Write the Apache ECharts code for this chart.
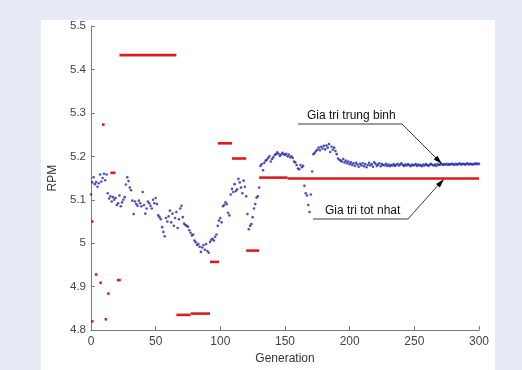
<!DOCTYPE html>
<html>
<head>
<meta charset="utf-8">
<script src="https://cdn.jsdelivr.net/npm/echarts@6/dist/echarts.min.js"></script>
<style>
  html, body { margin: 0; padding: 0; background: #e7ebf6; }
  #panel { position: absolute; left: 41px; top: 20px; width: 454px; height: 350px; background: #fff; }
  #chart { position: absolute; left: 0; top: 0; width: 522px; height: 370px; }
</style>
</head>
<body>
<div id="panel"></div>
<div id="chart"></div>
<script>
// average RPM per generation (blue dots), generation 0..300
const avgRpm = [
  5.112, 5.140, 5.152, 5.136, 5.141, 5.130, 5.138, 5.158, 5.142, 5.150,
  5.160, 5.145, 5.158, 5.115, 5.103, 5.108, 5.096, 5.106, 5.100, 5.104,
  5.088, 5.092, 5.110, 5.085, 5.094, 5.100, 5.106, 5.135, 5.152, 5.143,
  5.128, 5.122, 5.098, 5.067, 5.096, 5.090, 5.086, 5.098, 5.092, 5.085,
  5.118, 5.088, 5.068, 5.080, 5.096, 5.092, 5.086, 5.080, 5.100, 5.092,
  5.104, 5.090, 5.064, 5.060, 5.055, 5.037, 5.026, 5.016, 5.058, 5.050,
  5.062, 5.075, 5.048, 5.068, 5.040, 5.058, 5.072, 5.035, 5.055, 5.080,
  5.086, 5.060, 5.045, 5.042, 5.040, 5.038, 5.030, 5.024, 5.018, 5.020,
  5.006, 5.002, 4.996, 4.998, 4.992, 4.980, 4.990, 4.996, 4.985, 4.998,
  4.982, 4.978, 5.003, 5.008, 5.010, 5.006, 5.015, 5.020, 5.040, 5.052,
  5.058, 5.048, 5.085, 5.088, 5.094, 5.090, 5.070, 5.064, 5.112, 5.125,
  5.118, 5.136, 5.120, 5.124, 5.148, 5.140, 5.128, 5.115, 5.144, 5.130,
  5.108, 5.067, 5.032, 5.040, 5.044, 5.060, 5.080, 5.090, 5.105, 5.108,
  5.128, 5.178, 5.182, 5.168, 5.185, 5.190, 5.192, 5.196, 5.200, 5.188,
  5.194, 5.198, 5.203, 5.205, 5.209, 5.206, 5.201, 5.204, 5.208, 5.205,
  5.203, 5.206, 5.200, 5.204, 5.198, 5.200, 5.196, 5.188, 5.186, 5.180,
  5.172, 5.170, 5.180, 5.175, 5.178, 5.132, 5.115, 5.110, 5.088, 5.072,
  5.112, 5.165, 5.205, 5.208, 5.212, 5.215, 5.220, 5.214, 5.222, 5.218,
  5.224, 5.216, 5.225, 5.220, 5.228, 5.210, 5.222, 5.215, 5.220, 5.212,
  5.205, 5.195, 5.192, 5.190, 5.188, 5.194, 5.186, 5.190, 5.184, 5.188,
  5.182, 5.186, 5.180, 5.184, 5.178, 5.185, 5.181, 5.176, 5.183, 5.179,
  5.184, 5.177, 5.182, 5.175, 5.180, 5.185, 5.179, 5.182, 5.176, 5.186,
  5.183, 5.178, 5.181, 5.184, 5.177, 5.182, 5.180, 5.179, 5.183, 5.178,
  5.181, 5.177, 5.180, 5.179, 5.182, 5.178, 5.180, 5.183, 5.179, 5.181,
  5.184, 5.180, 5.178, 5.181, 5.179, 5.182, 5.180, 5.177, 5.181, 5.179,
  5.180, 5.182, 5.178, 5.181, 5.179, 5.180, 5.177, 5.181, 5.179, 5.182,
  5.180, 5.178, 5.181, 5.183, 5.180, 5.179, 5.181, 5.178, 5.182, 5.180,
  5.181, 5.183, 5.180, 5.182, 5.181, 5.183, 5.180, 5.182, 5.181, 5.183,
  5.182, 5.180, 5.183, 5.181, 5.182, 5.184, 5.181, 5.182, 5.183, 5.181,
  5.182, 5.184, 5.181, 5.183, 5.182, 5.181, 5.183, 5.182, 5.184, 5.182,
  5.183
];

// best RPM (red runs): start generation, end generation, value
const bestStart = [0, 0, 3, 6.5, 8.5, 10.5, 12.5, 15, 20, 22, 66, 77, 92, 98, 109, 120, 130, 152];
const bestEnd   = [0.8, 0.8, 5, 7.5, 10.5, 11.5, 13.5, 19, 23, 66, 77, 92, 99, 109, 120, 130, 152, 300];
const bestVal   = [5.050, 4.820, 4.928, 4.909, 5.273, 4.825, 4.884, 5.162, 4.915, 5.433, 4.835, 4.838, 4.957, 5.230, 5.195, 4.983, 5.151, 5.149];

const xTicks = { min: 0, max: 300, interval: 50 };
const yTicks = { min: 4.8, max: 5.5, interval: 0.1 };

const RED = '#d91c1c';
const BLUE = '#2424a8';
const FONT = 'Liberation Sans, Arial, sans-serif';

const chart = echarts.init(document.getElementById('chart'));

const bestRows = bestStart.map((s, i) => [s, bestEnd[i], bestVal[i]]);
const avgRows = avgRpm.map((v, i) => [i, v]);

// small filled arrow head at (tx,ty) pointing from (fx,fy)
function arrowHead(fx, fy, tx, ty) {
  const dx = tx - fx, dy = ty - fy;
  const len = Math.sqrt(dx * dx + dy * dy);
  const ux = dx / len, uy = dy / len;
  const bx = tx - ux * 9, by = ty - uy * 9;
  const w = 2.6;
  return {
    type: 'polygon',
    shape: { points: [[tx, ty], [bx - uy * w, by + ux * w], [bx + uy * w, by - ux * w]] },
    style: { fill: '#000' },
    z: 100
  };
}

const lineStyle = { stroke: '#222', lineWidth: 0.9 };

chart.setOption({
  animation: false,
  grid: { left: 91, right: 43, top: 26, bottom: 38 },
  xAxis: {
    type: 'value',
    min: xTicks.min, max: xTicks.max, interval: xTicks.interval,
    name: 'Generation',
    nameLocation: 'middle',
    nameGap: 22,
    nameTextStyle: { fontFamily: FONT, fontSize: 12, color: '#333' },
    axisLine: { lineStyle: { color: '#7a7a7a', width: 1 } },
    axisTick: { inside: true, length: 4, lineStyle: { color: '#7a7a7a' } },
    axisLabel: { fontFamily: FONT, fontSize: 12, color: '#444', margin: 6 },
    splitLine: { show: false }
  },
  yAxis: {
    type: 'value',
    min: yTicks.min, max: yTicks.max, interval: yTicks.interval,
    name: 'RPM',
    nameLocation: 'middle',
    nameGap: 27,
    nameTextStyle: { fontFamily: FONT, fontSize: 12, color: '#333' },
    axisLine: { show: true, lineStyle: { color: '#7a7a7a', width: 1 } },
    axisTick: { show: true, inside: true, length: 4, lineStyle: { color: '#7a7a7a' } },
    axisLabel: { fontFamily: FONT, fontSize: 11.5, color: '#444', margin: 5 },
    splitLine: { show: false }
  },
  series: [
    {
      name: 'Gia tri tot nhat',
      type: 'custom',
      data: bestRows,
      encode: { x: [0, 1], y: 2 },
      renderItem(params, api) {
        const s = api.coord([api.value(0), api.value(2)]);
        const e = api.coord([api.value(1), api.value(2)]);
        return {
          type: 'rect',
          shape: { x: s[0], y: s[1] - 1.3, width: Math.max(e[0] - s[0], 2.5), height: 2.6 },
          style: { fill: RED }
        };
      },
      z: 2
    },
    {
      name: 'Gia tri trung binh',
      type: 'scatter',
      data: avgRows,
      symbol: 'circle',
      symbolSize: 2.6,
      itemStyle: { color: BLUE },
      z: 3
    }
  ],
  graphic: [
    { type: 'text', left: 307, top: 110, style: { text: 'Gia tri trung binh', fontFamily: FONT, fontSize: 12, fill: '#111' }, z: 100 },
    { type: 'polyline', shape: { points: [[298, 124], [402, 124], [438, 160]] }, style: lineStyle, z: 100 },
    arrowHead(402, 124, 442, 164),
    { type: 'text', left: 325, top: 205, style: { text: 'Gia tri tot nhat', fontFamily: FONT, fontSize: 12, fill: '#111' }, z: 100 },
    { type: 'polyline', shape: { points: [[313, 219], [408, 219], [440, 183]] }, style: lineStyle, z: 100 },
    arrowHead(408, 219, 444, 179)
  ]
});
</script>
</body>
</html>
